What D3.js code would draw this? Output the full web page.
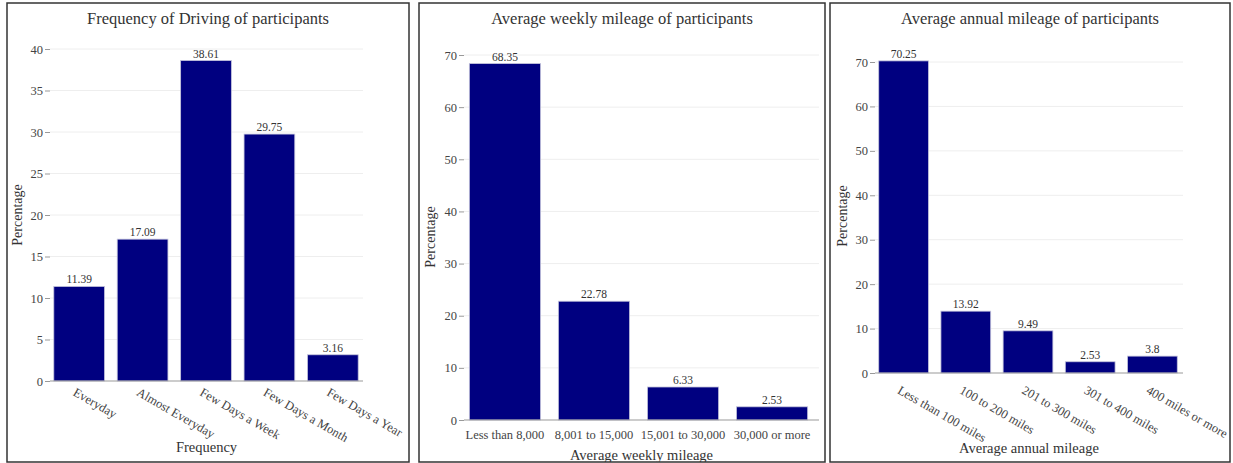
<!DOCTYPE html>
<html>
<head>
<meta charset="utf-8">
<script src="https://cdn.jsdelivr.net/npm/d3@7"></script>
<style>
	body { margin: 0; background: #fff; }
	svg text { font-family: "Liberation Serif", "Times New Roman", serif; }
</style>
</head>
<body>
<svg id="chart" width="1233" height="463"></svg>
<script>
// data
const freqCategories = ["Everyday", "Almost Everyday", "Few Days a Week", "Few Days a Month", "Few Days a Year"];
const freqValues = [11.39, 17.09, 38.61, 29.75, 3.16];
const freqTicks = [0, 5, 10, 15, 20, 25, 30, 35, 40];

const weeklyCategories = ["Less than 8,000", "8,001 to 15,000", "15,001 to 30,000", "30,000 or more"];
const weeklyValues = [68.35, 22.78, 6.33, 2.53];
const weeklyTicks = [0, 10, 20, 30, 40, 50, 60, 70];

const annualCategories = ["Less than 100 miles", "100 to 200 miles", "201 to 300 miles", "301 to 400 miles", "400 miles or more"];
const annualValues = [70.25, 13.92, 9.49, 2.53, 3.8];
const annualTicks = [0, 10, 20, 30, 40, 50, 60, 70];

// layout of each panel (page pixels)
const panels = [
	{
		title: "Frequency of Driving of participants", xTitle: "Frequency",
		cats: freqCategories, vals: freqValues, ticks: freqTicks,
		frame: [7, 3, 402, 459], band: [50, 362], gridEnd: 363, y: [381, 49],
		rotate: true, labelOff: 6, xTitleY: 452, yTitleX: 22, yTitleY: 215
	},
	{
		title: "Average weekly mileage of participants", xTitle: "Average weekly mileage",
		cats: weeklyCategories, vals: weeklyValues, ticks: weeklyTicks,
		frame: [419, 3, 406, 459], band: [464, 813], gridEnd: 819, y: [420, 55],
		rotate: false, labelOff: 19, xTitleY: 460, yTitleX: 435, yTitleY: 237
	},
	{
		title: "Average annual mileage of participants", xTitle: "Average annual mileage",
		cats: annualCategories, vals: annualValues, ticks: annualTicks,
		frame: [830, 3, 400, 459], band: [875, 1181], gridEnd: 1183, y: [373, 62],
		rotate: true, labelOff: 12, xTitleY: 453, yTitleX: 847, yTitleY: 216
	}
];

const svg = d3.select("#chart");

panels.forEach((p, i) => {
	const [fx, fy, fw, fh] = p.frame;

	svg.append("clipPath").attr("id", "clip" + i)
		.append("rect").attr("x", fx).attr("y", fy).attr("width", fw).attr("height", fh);

	const g = svg.append("g").attr("clip-path", `url(#clip${i})`);

	const x = d3.scaleBand().domain(p.cats).range(p.band).paddingInner(0.2).paddingOuter(0.06);
	const yMax = p.ticks[p.ticks.length - 1];
	const y = d3.scaleLinear().domain([0, yMax]).range(p.y);
	const left = p.band[0];

	// gridlines
	g.append("g").selectAll("line")
		.data(p.ticks.filter(t => t > 0))
		.join("line")
		.attr("x1", left).attr("x2", p.gridEnd)
		.attr("y1", d => y(d)).attr("y2", d => y(d))
		.attr("stroke", "#eee").attr("stroke-width", 1);

	// y axis
	const yAxis = d3.axisLeft(y).tickValues(p.ticks).tickSize(5).tickPadding(2);
	const ya = g.append("g").attr("transform", `translate(${left},0)`).call(yAxis);
	ya.select(".domain").remove();
	ya.selectAll(".tick line").attr("stroke", "#999");
	ya.selectAll("text").attr("font-size", 12.5).attr("fill", "#444");

	// bars
	g.append("g").selectAll("rect")
		.data(p.vals)
		.join("rect")
		.attr("x", (d, j) => x(p.cats[j]))
		.attr("width", x.bandwidth())
		.attr("y", d => y(d))
		.attr("height", d => y(0) - y(d))
		.attr("fill", "#000080")
		.attr("stroke", "#c4c4dc")
		.attr("stroke-width", 0.8);

	// value labels
	g.append("g").selectAll("text")
		.data(p.vals)
		.join("text")
		.attr("x", (d, j) => x(p.cats[j]) + x.bandwidth() / 2)
		.attr("y", d => y(d) - 3)
		.attr("text-anchor", "middle")
		.attr("font-size", 11.5)
		.attr("fill", "#333")
		.text(d => d);

	// baseline
	g.append("line")
		.attr("x1", left).attr("x2", p.gridEnd)
		.attr("y1", y(0)).attr("y2", y(0))
		.attr("stroke", "#999");

	// x tick labels
	const xl = g.append("g").selectAll("text")
		.data(p.cats)
		.join("text")
		.attr("font-size", 12.5)
		.attr("fill", "#444")
		.text(d => d);
	if (p.rotate) {
		xl.attr("transform", d => `translate(${x(d) + x.bandwidth() / 2 - 2.5},${y(0) + p.labelOff}) rotate(30)`)
			.attr("dy", "0.71em")
			.attr("text-anchor", "start");
	} else {
		xl.attr("x", d => x(d) + x.bandwidth() / 2)
			.attr("y", y(0) + p.labelOff)
			.attr("text-anchor", "middle");
	}

	// titles
	g.append("text")
		.attr("x", fx + fw / 2).attr("y", fy + 21)
		.attr("text-anchor", "middle")
		.attr("font-size", 16.5)
		.attr("fill", "#333")
		.text(p.title);

	g.append("text")
		.attr("x", (left + p.gridEnd) / 2).attr("y", p.xTitleY)
		.attr("text-anchor", "middle")
		.attr("font-size", 14.5)
		.attr("fill", "#333")
		.text(p.xTitle);

	g.append("text")
		.attr("transform", `translate(${p.yTitleX},${p.yTitleY}) rotate(-90)`)
		.attr("text-anchor", "middle")
		.attr("font-size", 14)
		.attr("fill", "#333")
		.text("Percentage");

	// frame
	svg.append("rect")
		.attr("x", fx).attr("y", fy).attr("width", fw).attr("height", fh)
		.attr("fill", "none")
		.attr("stroke", "#333")
		.attr("stroke-width", 1.5);
});
</script>
</body>
</html>
